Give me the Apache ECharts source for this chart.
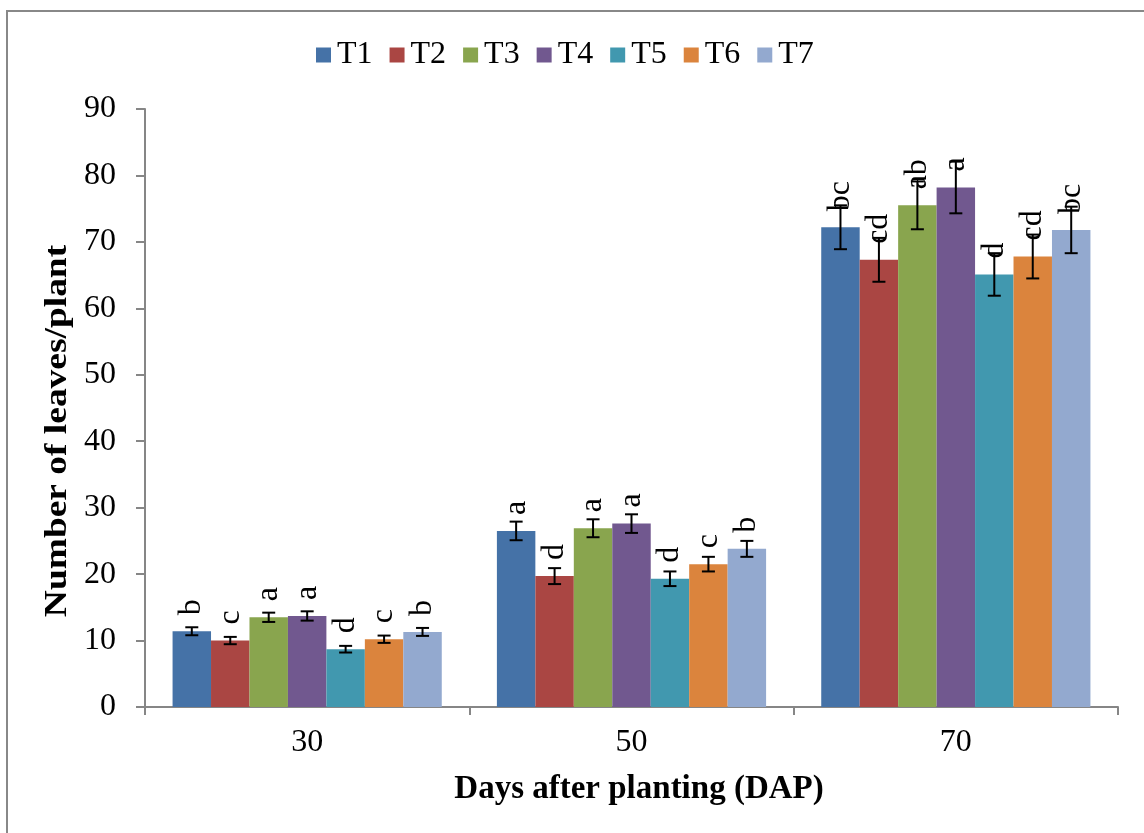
<!DOCTYPE html>
<html><head><meta charset="utf-8">
<script src="https://cdn.jsdelivr.net/npm/echarts@6/dist/echarts.min.js"></script>
<style>html,body{margin:0;padding:0;background:#fff}#c{width:1144px;height:833px}</style>
</head><body><div id="c"></div>
<script>
const categories = ['30', '50', '70'];
const seriesNames = ['T1', 'T2', 'T3', 'T4', 'T5', 'T6', 'T7'];
const colors = ['#4572A7', '#AA4643', '#89A54E', '#71588F', '#4198AF', '#DB843D', '#93A9CF'];

const T1 = [11.4, 26.5, 72.2];
const T2 = [10.0, 19.7, 67.3];
const T3 = [13.5, 26.9, 75.5];
const T4 = [13.7, 27.6, 78.2];
const T5 = [8.7, 19.3, 65.1];
const T6 = [10.2, 21.5, 67.8];
const T7 = [11.3, 23.8, 71.8];

const E1 = [0.6, 1.4, 3.3];
const E2 = [0.55, 1.2, 3.3];
const E3 = [0.7, 1.35, 3.6];
const E4 = [0.7, 1.4, 3.9];
const E5 = [0.5, 1.1, 3.2];
const E6 = [0.55, 1.1, 3.3];
const E7 = [0.6, 1.2, 3.5];

const L1 = ['b', 'a', 'bc'];
const L2 = ['c', 'd', 'cd'];
const L3 = ['a', 'a', 'ab'];
const L4 = ['a', 'a', 'a'];
const L5 = ['d', 'd', 'd'];
const L6 = ['c', 'c', 'cd'];
const L7 = ['b', 'b', 'bc'];

const yTicks = {min: 0, max: 90, interval: 10};

const values = [T1, T2, T3, T4, T5, T6, T7];
const errors = [E1, E2, E3, E4, E5, E6, E7];
const letters = [L1, L2, L3, L4, L5, L6, L7];

const FONT = '"Liberation Serif", "Times New Roman", serif';
const CAT_GAP = 0.17;
const N = seriesNames.length;

const series = [];
seriesNames.forEach((name, i) => {
  series.push({
    name: name,
    type: 'bar',
    barGap: '0%',
    barCategoryGap: (CAT_GAP * 100) + '%',
    itemStyle: {color: colors[i]},
    label: {
      show: true,
      position: 'top',
      distance: 16,
      rotate: 90,
      align: 'left',
      verticalAlign: 'middle',
      fontFamily: FONT,
      fontSize: 32,
      color: '#000',
      formatter: p => letters[i][p.dataIndex]
    },
    data: values[i]
  });
});
seriesNames.forEach((name, i) => {
  series.push({
    type: 'custom',
    z: 5,
    silent: true,
    data: values[i].map((v, k) => [k, v, errors[i][k]]),
    renderItem: function (params, api) {
      const x = api.value(0), v = api.value(1), e = api.value(2);
      const c = api.coord([x, v]);
      const catW = api.size([1, 0])[0];
      const bw = catW * (1 - CAT_GAP) / N;
      const cx = c[0] + (i - (N - 1) / 2) * bw;
      const yt = api.coord([x, v + e])[1];
      const yb = api.coord([x, v - e])[1];
      const hw = 6.5;
      const st = {stroke: '#000', lineWidth: 2};
      return {
        type: 'group',
        children: [
          {type: 'line', shape: {x1: cx, y1: yt, x2: cx, y2: yb}, style: st},
          {type: 'line', shape: {x1: cx - hw, y1: yt, x2: cx + hw, y2: yt}, style: st},
          {type: 'line', shape: {x1: cx - hw, y1: yb, x2: cx + hw, y2: yb}, style: st}
        ]
      };
    }
  });
});

const chart = echarts.init(document.getElementById('c'), null, {renderer: 'canvas'});
chart.setOption({
  animation: false,
  backgroundColor: '#fff',
  textStyle: {fontFamily: FONT},
  legend: {
    data: seriesNames,
    left: 311,
    top: 34,
    icon: 'rect',
    itemWidth: 15,
    itemHeight: 15,
    itemGap: 17,
    textStyle: {fontFamily: FONT, fontSize: 32, color: '#000', padding: [0, 0, 0, 1]},
  },
  grid: {left: 145, right: 26, top: 109, bottom: 126, containLabel: false},
  xAxis: {
    type: 'category',
    data: categories,
    axisLine: {lineStyle: {color: '#868686', width: 2}},
    axisTick: {show: true, length: 8, lineStyle: {color: '#868686', width: 2}},
    axisLabel: {fontFamily: FONT, fontSize: 32, color: '#000', margin: 20}
  },
  yAxis: {
    type: 'value',
    min: yTicks.min,
    max: yTicks.max,
    interval: yTicks.interval,
    splitLine: {show: false},
    axisLine: {show: true, lineStyle: {color: '#868686', width: 2}},
    axisTick: {show: true, length: 9, lineStyle: {color: '#868686', width: 2}},
    axisLabel: {fontFamily: FONT, fontSize: 32, color: '#000', margin: 29}
  },
  graphic: [
    {type: 'rect', shape: {x: 7, y: 11, width: 1300, height: 1000}, style: {fill: 'none', stroke: '#888', lineWidth: 2}, z: 0, silent: true},
    {type: 'text', x: 639, y: 789, style: {text: 'Days after planting (DAP)', font: 'bold 33px ' + FONT, align: 'center', verticalAlign: 'middle', fill: '#000'}},
    {type: 'text', x: 58, y: 431, rotation: Math.PI / 2, scaleX: 1.17, scaleY: 1, style: {text: 'Number of leaves/plant', font: 'bold 32px ' + FONT, align: 'center', verticalAlign: 'middle', fill: '#000'}}
  ],
  series: series
});
</script>
</body></html>
